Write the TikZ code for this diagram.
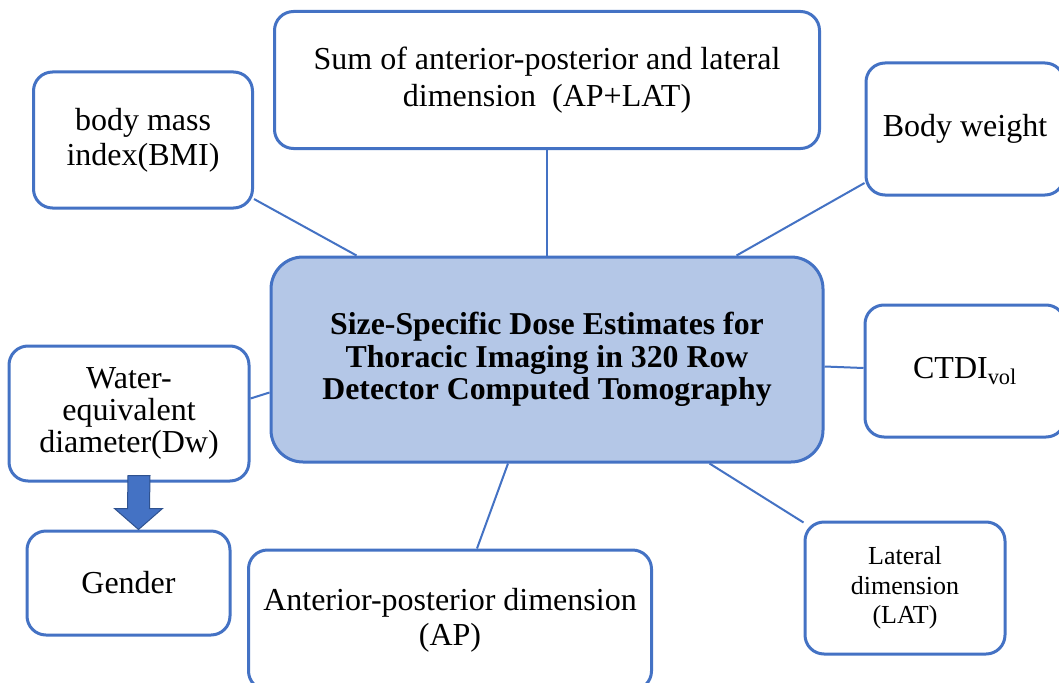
\documentclass[tikz,border=0pt]{standalone}
\usepackage{fontspec}
\setmainfont{Liberation Serif}
\usetikzlibrary{calc}
\definecolor{bblue}{HTML}{4472C4}
\definecolor{lblue}{HTML}{B4C7E7}
\definecolor{dblue}{HTML}{2F528F}
\begin{document}
\begin{tikzpicture}[x=1pt,y=-1pt,
  box/.style={draw=bblue,line width=3pt,rounded corners=19pt,fill=white,align=center,inner sep=0pt,
    font=\fontsize{32}{35}\selectfont},
  conn/.style={draw=bblue,line width=2pt}]
\useasboundingbox (0,0) rectangle (1059,682);
\clip (0,0) rectangle (1059,682);
\fill[white] (0,0) rectangle (1059,682);
% nodes
\node[box,minimum width=219pt,minimum height=136pt] (bmi) at (143,140) {body mass\\index(BMI)};
\node[box,minimum width=545pt,minimum height=137pt,font=\fontsize{32}{37}\selectfont] (sum) at (547,80) {Sum of anterior-posterior and lateral\\dimension\ \ (AP+LAT)};
\node[box,minimum width=198pt,minimum height=132pt] (bw) at (965,129) {Body weight};
\node[box,fill=lblue,rounded corners=32pt,minimum width=552pt,minimum height=205pt,
  font=\fontsize{31.8}{32.5}\selectfont\bfseries] (ctr) at (547,359.5)
  {Size-Specific Dose Estimates for\\Thoracic Imaging in 320 Row\\Detector Computed Tomography};
\node[box,minimum width=200pt,minimum height=132pt] (ctdi) at (965,371) {CTDI\textsubscript{vol}};
\node[box,minimum width=240pt,minimum height=135pt,font=\fontsize{32}{32}\selectfont] (water) at (129,413.5) {Water-\\equivalent\\diameter(Dw)};
\node[box,minimum width=203pt,minimum height=104pt] (gender) at (128.5,583) {Gender};
\node[box,minimum width=403pt,minimum height=140pt] (ap) at (450,620) {Anterior-posterior dimension\\(AP)};
\node[box,minimum width=200pt,minimum height=132pt,font=\fontsize{26}{29.5}\selectfont] (lat) at (905,588) {Lateral\\dimension\\(LAT)};
% connectors
\draw[conn] ($(bmi.east)+(0,59)$) -- ($(ctr.north west)+(87,0)$);
\draw[conn] (sum.south) -- (ctr.north);
\draw[conn] ($(bw.west)+(0,54)$) -- ($(ctr.north east)+(-88,0)$);
\draw[conn] ($(ctr.east)+(0,7)$) -- ($(ctdi.west)+(0,-3)$);
\draw[conn] ($(water.east)+(0,-15)$) -- ($(ctr.west)+(0,33)$);
\draw[conn] ($(ap.north)+(27,0)$) -- ($(ctr.south)+(-39,0)$);
\draw[conn] ($(lat.north west)+(0,2)$) -- ($(ctr.south east)+(-115,0)$);
% block arrow
\coordinate (at) at ($(water.south)+(10,-7)$);
\coordinate (ab) at ($(gender.north)+(10,0)$);
\filldraw[fill=bblue,draw=dblue,line width=1pt]
  ($(at)+(-11,0)$) -- ($(at)+(11,0)$) -- ($(ab)+(11,-21)$) -- ($(ab)+(24,-21)$) -- (ab)
  -- ($(ab)+(-24,-21)$) -- ($(ab)+(-11,-21)$) -- cycle;
\end{tikzpicture}
\end{document}
